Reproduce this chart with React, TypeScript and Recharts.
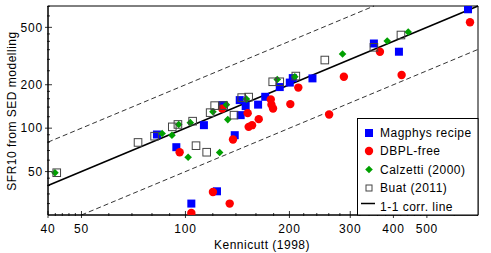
import { ScatterChart, Scatter, XAxis, YAxis, ReferenceLine, ReferenceArea } from "recharts";

const FONT = "'Liberation Sans', Arial, Helvetica, sans-serif";

// axis ranges (log-log)
const X_DOMAIN: [number, number] = [40, 703];
const Y_DOMAIN: [number, number] = [25, 703];

const X_MAJOR = [40, 50, 100, 200, 300, 400, 500];
const X_MINOR = [42, 44, 46, 48, 60, 70, 80, 90, 120, 140, 160, 180, 220, 240, 260, 280, 320, 340, 360, 380, 420, 440, 460, 480, 600, 700];
const Y_MAJOR = [50, 100, 200, 500];
const Y_MINOR = [30, 35, 40, 45, 60, 70, 80, 90, 120, 140, 160, 180, 250, 300, 350, 400, 450, 600, 700];

// Kennicutt (1998) vs SFR10 from SED modelling
const magphys = [
  { x: 82.7, y: 90.4 },
  { x: 113.1, y: 104.9 },
  { x: 94.1, y: 73.8 },
  { x: 138.9, y: 89.4 },
  { x: 144.5, y: 123.1 },
  { x: 143.6, y: 156.5 },
  { x: 127.9, y: 144.5 },
  { x: 149.4, y: 142.2 },
  { x: 162.3, y: 145.6 },
  { x: 170.2, y: 165 },
  { x: 187.5, y: 192.7 },
  { x: 200.5, y: 207 },
  { x: 204.5, y: 222.4 },
  { x: 233.2, y: 221.4 },
  { x: 351.2, y: 386.3 },
  { x: 415, y: 338.8 },
  { x: 657.7, y: 667.3 },
  { x: 123.4, y: 36.5 },
  { x: 104.0, y: 30.0 },
];

const dbplFree = [
  { x: 96.2, y: 68.1 },
  { x: 137.3, y: 83.5 },
  { x: 127.7, y: 136.6 },
  { x: 151.4, y: 127.1 },
  { x: 163.0, y: 115.5 },
  { x: 155.9, y: 104.9 },
  { x: 152.4, y: 102.1 },
  { x: 176.6, y: 158.2 },
  { x: 177.4, y: 145.6 },
  { x: 179.3, y: 137 },
  { x: 201.2, y: 146.8 },
  { x: 212.2, y: 191.1 },
  { x: 260.6, y: 124.5 },
  { x: 287.5, y: 227.1 },
  { x: 365.6, y: 338.8 },
  { x: 422.5, y: 233.4 },
  { x: 666.5, y: 542 },
  { x: 120.1, y: 36.1 },
  { x: 134.3, y: 30.0 },
  { x: 104.0, y: 25.8 },
];

const calzetti = [
  { x: 41.9, y: 49.1 },
  { x: 85.6, y: 91.9 },
  { x: 91.4, y: 89.4 },
  { x: 95.6, y: 106.1 },
  { x: 103.3, y: 109.2 },
  { x: 101.8, y: 62.9 },
  { x: 125.6, y: 67.8 },
  { x: 120.1, y: 129.8 },
  { x: 131.4, y: 145.6 },
  { x: 132.6, y: 114.6 },
  { x: 150.1, y: 159 },
  { x: 184.4, y: 217.2 },
  { x: 207.3, y: 227.1 },
  { x: 285, y: 326.6 },
  { x: 383.8, y: 402 },
  { x: 441.5, y: 464 },
];

const buat = [
  { x: 42.4, y: 49.1 },
  { x: 72.9, y: 79.6 },
  { x: 81.4, y: 88.0 },
  { x: 91.6, y: 102.1 },
  { x: 95.1, y: 106.1 },
  { x: 104.9, y: 111.8 },
  { x: 107.3, y: 75.6 },
  { x: 115.2, y: 68.1 },
  { x: 117.9, y: 128.1 },
  { x: 121.5, y: 143.3 },
  { x: 129.0, y: 143.3 },
  { x: 138.2, y: 123.1 },
  { x: 145.5, y: 162.9 },
  { x: 152.4, y: 164.2 },
  { x: 178.9, y: 209.7 },
  { x: 187.5, y: 209.7 },
  { x: 208.7, y: 229.7 },
  { x: 253.2, y: 296.7 },
  { x: 351.2, y: 363.5 },
  { x: 420.6, y: 442.4 },
];

// 1-1 line and factor-of-two envelope
const ONE_TO_ONE = 1;
const UPPER = 2;
const LOWER = 0.5;

function lineSegment(k: number) {
  const x0 = Math.max(X_DOMAIN[0], Y_DOMAIN[0] / k);
  const x1 = Math.min(X_DOMAIN[1], Y_DOMAIN[1] / k);
  return [
    { x: x0, y: x0 * k },
    { x: x1, y: x1 * k },
  ];
}

const BLUE = "#0000ff";
const RED = "#ff0000";
const GREEN = "#00a000";
const GREY = "#444444";

function BlueSquare(props: any) {
  const { cx, cy } = props;
  return <rect x={cx - 4} y={cy - 4} width={8} height={8} fill={BLUE} />;
}

function RedCircle(props: any) {
  const { cx, cy } = props;
  return <circle cx={cx} cy={cy} r={4.2} fill={RED} />;
}

function GreenDiamond(props: any) {
  const { cx, cy } = props;
  const r = 3.8;
  return <polygon points={`${cx},${cy - r} ${cx + r},${cy} ${cx},${cy + r} ${cx - r},${cy}`} fill={GREEN} />;
}

function OpenSquare(props: any) {
  const { cx, cy } = props;
  return <rect x={cx - 3.8} y={cy - 3.8} width={7.6} height={7.6} fill="none" stroke={GREY} strokeWidth={1} />;
}

function XTick(props: any) {
  const { x, y, payload } = props;
  const major = X_MAJOR.includes(payload.value);
  return (
    <g>
      <line x1={x} x2={x} y1={y - (major ? 4 : 2)} y2={y + (major ? 3 : 1)} stroke="#000" strokeWidth={0.8} />
      {major && (
        <text x={x} y={y + 18} textAnchor="middle" fontSize={12} fontFamily={FONT} letterSpacing={0.8} fill="#000">
          {payload.value}
        </text>
      )}
    </g>
  );
}

function YTick(props: any) {
  const { x, y, payload } = props;
  const major = Y_MAJOR.includes(payload.value);
  return (
    <g>
      <line x1={x - (major ? 3 : 1)} x2={x + (major ? 4 : 2)} y1={y} y2={y} stroke="#000" strokeWidth={0.8} />
      {major && (
        <text x={x - 5} y={y + 4.3} textAnchor="end" fontSize={12} fontFamily={FONT} letterSpacing={0.8} fill="#000">
          {payload.value}
        </text>
      )}
    </g>
  );
}

const legendItems = [
  { label: "Magphys recipe", kind: "blue" },
  { label: "DBPL-free", kind: "red" },
  { label: "Calzetti (2000)", kind: "green" },
  { label: "Buat (2011)", kind: "open" },
  { label: "1-1 corr. line", kind: "line" },
];

function LegendMarker({ kind, cx, cy }: { kind: string; cx: number; cy: number }) {
  if (kind === "blue") return <BlueSquare cx={cx} cy={cy} />;
  if (kind === "red") return <RedCircle cx={cx} cy={cy} />;
  if (kind === "green") return <GreenDiamond cx={cx} cy={cy} />;
  if (kind === "open") return <rect x={cx - 3} y={cy - 3} width={6} height={6} fill="none" stroke={GREY} />;
  return <line x1={cx - 8} x2={cx + 6} y1={cy - 3} y2={cy - 3} stroke="#000" strokeWidth={1.5} />;
}

export default function App() {
  const xTicks = [...X_MAJOR, ...X_MINOR].sort((a, b) => a - b);
  const yTicks = [...Y_MAJOR, ...Y_MINOR].sort((a, b) => a - b);
  const rowY = [133, 151, 169.5, 188, 206.5];

  return (
    <div style={{ position: "absolute", left: 0, top: 0, width: 491, height: 253, background: "#fff" }}>
      <ScatterChart width={491} height={253} margin={{ top: 6, right: 13, bottom: 0, left: 0 }}>
        <XAxis
          type="number"
          dataKey="x"
          scale="log"
          domain={X_DOMAIN}
          allowDataOverflow
          ticks={xTicks}
          interval={0}
          height={38}
          tickSize={0}
          tickMargin={0}
          tickLine={false}
          tick={<XTick />}
          axisLine={{ stroke: "#000", strokeWidth: 1 }}
        />
        <YAxis
          type="number"
          dataKey="y"
          scale="log"
          domain={Y_DOMAIN}
          allowDataOverflow
          ticks={yTicks}
          interval={0}
          width={48}
          tickSize={0}
          tickMargin={0}
          tickLine={false}
          tick={<YTick />}
          axisLine={{ stroke: "#000", strokeWidth: 1 }}
        />
        <ReferenceArea
          x1={X_DOMAIN[0]}
          x2={X_DOMAIN[1]}
          y1={Y_DOMAIN[0]}
          y2={Y_DOMAIN[1]}
          fill="none"
          fillOpacity={0}
          stroke="#000"
          strokeWidth={1}
          ifOverflow="visible"
        />
        <ReferenceLine segment={lineSegment(UPPER)} stroke="#000" strokeWidth={0.8} strokeDasharray="5 3" ifOverflow="visible" />
        <ReferenceLine segment={lineSegment(LOWER)} stroke="#000" strokeWidth={0.8} strokeDasharray="5 3" ifOverflow="visible" />
        <ReferenceLine segment={lineSegment(ONE_TO_ONE)} stroke="#000" strokeWidth={1.6} ifOverflow="visible" />
        <Scatter data={magphys} shape={<BlueSquare />} isAnimationActive={false} />
        <Scatter data={dbplFree} shape={<RedCircle />} isAnimationActive={false} />
        <Scatter data={calzetti} shape={<GreenDiamond />} isAnimationActive={false} />
        <Scatter data={buat} shape={<OpenSquare />} isAnimationActive={false} />
      </ScatterChart>
      <svg
        width={491}
        height={253}
        style={{ position: "absolute", left: 0, top: 0, pointerEvents: "none" }}
        fontFamily={FONT}
      >
        <text x={262} y={249} textAnchor="middle" fontSize={12} letterSpacing={0.5} fill="#000">
          Kennicutt (1998)
        </text>
        <text
          transform="translate(15.5,111) rotate(-90)"
          textAnchor="middle"
          fontSize={12}
          letterSpacing={0.5}
          fill="#000"
        >
          SFR10 from SED modelling
        </text>
        <rect x={357.5} y={118.5} width={120.5} height={96.5} fill="#fff" stroke="#000" strokeWidth={1} />
        {legendItems.map((item, i) => (
          <g key={item.label}>
            <LegendMarker kind={item.kind} cx={369} cy={rowY[i]} />
            <text x={380} y={rowY[i] + 4.3} fontSize={12} letterSpacing={0.5} fill="#000">
              {item.label}
            </text>
          </g>
        ))}
      </svg>
    </div>
  );
}
